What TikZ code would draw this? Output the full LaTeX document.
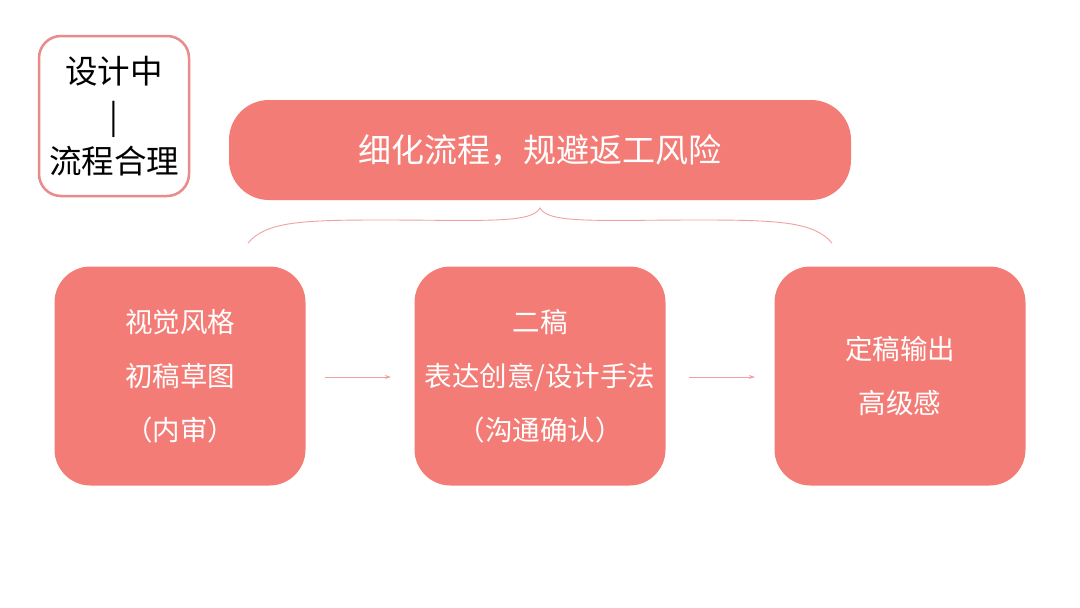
\documentclass[tikz,border=0pt]{standalone}
\usepackage{fontspec}
\setmainfont{Noto Sans CJK SC}
\usetikzlibrary{arrows.meta}
\definecolor{salmon}{HTML}{F47C76}
\definecolor{pinkline}{HTML}{EFA3A1}
\definecolor{frame}{HTML}{E98A8B}
\tikzset{
  card/.style={rectangle, fill=salmon, rounded corners=36pt, text=white, align=center,
    minimum width=251pt, minimum height=219pt, font=\fontsize{27.5}{54}\selectfont, inner sep=0pt},
  banner/.style={rectangle, fill=salmon, rounded corners=40pt, text=white,
    minimum width=622pt, minimum height=100pt, font=\fontsize{33}{40}\selectfont, inner sep=0pt},
  tag/.style={rectangle, draw=frame, line width=2.5pt, fill=white, rounded corners=22pt,
    minimum width=150pt, minimum height=160pt, align=center, font=\fontsize{32.5}{45}\selectfont, inner sep=0pt},
  flow/.style={draw=pinkline, line width=0.9pt, -{Stealth[length=6pt,width=4pt]}},
  brace/.style={draw=pinkline, line width=0.9pt}
}
\begin{document}
\begin{tikzpicture}[x=1pt,y=-1pt]
\useasboundingbox (0,0) rectangle (1080,608);
\fill[white] (0,0) rectangle (1080,608);
\node[tag] (tag) at (114,116) {设计中\\|\\流程合理};
\node[banner] (top) at (540,150) {细化流程，规避返工风险};
\node[card] (b1) at (180,376) {视觉风格\\初稿草图\\（内审）};
\node[card] (b2) at (540,376) {二稿\\表达创意/设计手法\\（沟通确认）};
\node[card] (b3) at (900,376) {定稿输出\\高级感};
\coordinate (bl) at (248,243);
\coordinate (br) at (832,243);
\coordinate (tip) at (540,208);
\draw[brace] (bl) .. controls (266,222) and (300,220) .. (380,220)
  .. controls (480,220) and (532,224) .. (tip)
  .. controls (548,224) and (600,220) .. (700,220)
  .. controls (780,220) and (814,222) .. (br);
\coordinate (a1s) at (325,377);
\coordinate (a1e) at (391,377);
\coordinate (a2s) at (689,377);
\coordinate (a2e) at (755,377);
\draw[flow] (a1s) -- (a1e);
\draw[flow] (a2s) -- (a2e);
\end{tikzpicture}
\end{document}
